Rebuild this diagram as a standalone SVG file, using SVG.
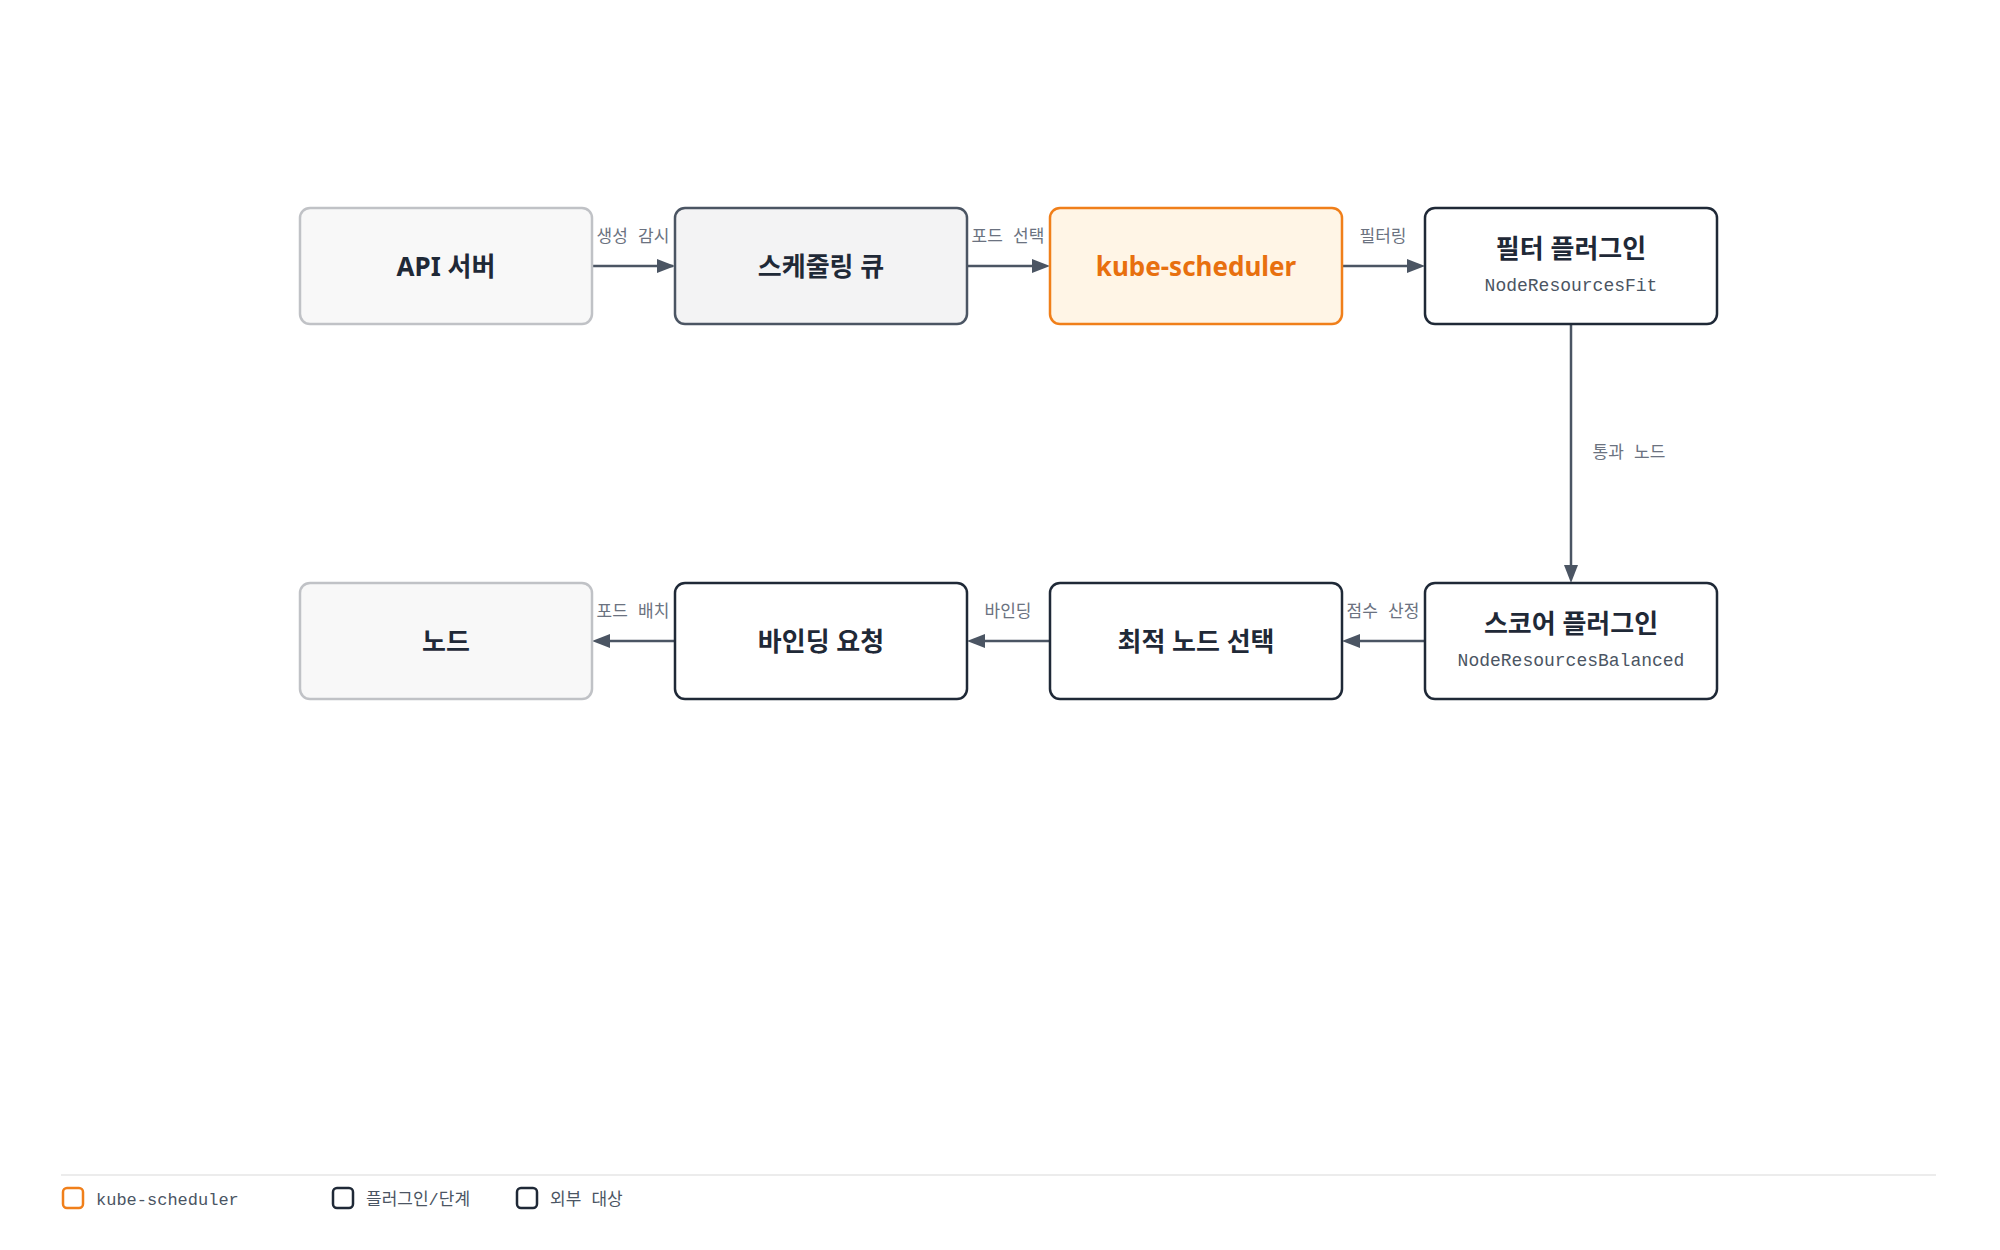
<svg xmlns="http://www.w3.org/2000/svg" width="2000" height="1250" viewBox="0 0 2000 1250">
<style>
.t{font-family:"Noto Sans","Noto Sans CJK KR",sans-serif;font-weight:700;font-size:26px;fill:#1f2937;text-anchor:middle;dominant-baseline:central}
.s{font-family:"Liberation Mono","Noto Sans CJK KR",monospace;font-size:18px;fill:#4b5563;text-anchor:middle;dominant-baseline:central}
.l{font-family:"Liberation Mono","Noto Sans CJK KR",monospace;font-size:17px;fill:#6b7280;text-anchor:middle;dominant-baseline:central}
.lg{font-family:"Liberation Mono","Noto Sans CJK KR",monospace;font-size:17px;fill:#4b5563;dominant-baseline:central}
.b{fill:#fff;stroke:#1f2937;stroke-width:2.5}
.e{fill:none;stroke:#4b5563;stroke-width:2.5;marker-end:url(#a)}
</style>
<defs><marker id="a" viewBox="0 0 10 10" refX="10" refY="5" markerWidth="7" markerHeight="7" orient="auto" markerUnits="userSpaceOnUse" ><path d="M0,0L10,5L0,10z" fill="#4b5563"/></marker></defs>
<rect width="2000" height="1250" fill="#fff"/>
<g id="connectors">
<line class="e" x1="592" y1="266" x2="673" y2="266" style="marker-end:none"/><path d="M657,259L675,266L657,273z" fill="#4b5563"/>
<line class="e" x1="967" y1="266" x2="1035" y2="266" style="marker-end:none"/><path d="M1032,259L1050,266L1032,273z" fill="#4b5563"/>
<line class="e" x1="1342" y1="266" x2="1410" y2="266" style="marker-end:none"/><path d="M1407,259L1425,266L1407,273z" fill="#4b5563"/>
<line class="e" x1="1571" y1="324" x2="1571" y2="568" style="marker-end:none"/><path d="M1564,565L1571,583L1578,565z" fill="#4b5563"/>
<line class="e" x1="1425" y1="641" x2="1357" y2="641" style="marker-end:none"/><path d="M1360,634L1342,641L1360,648z" fill="#4b5563"/>
<line class="e" x1="1050" y1="641" x2="982" y2="641" style="marker-end:none"/><path d="M985,634L967,641L985,648z" fill="#4b5563"/>
<line class="e" x1="675" y1="641" x2="607" y2="641" style="marker-end:none"/><path d="M610,634L592,641L610,648z" fill="#4b5563"/>
<text class="l" x="633" y="237">생성 감시</text>
<text class="l" x="1008" y="237">포드 선택</text>
<text class="l" x="1383" y="237">필터링</text>
<text class="l" x="1629" y="453">통과 노드</text>
<text class="l" x="1383" y="612">점수 산정</text>
<text class="l" x="1008" y="612">바인딩</text>
<text class="l" x="633" y="612">포드 배치</text>
</g>
<g id="api"><rect x="300" y="208" width="292" height="116" rx="10" fill="#f8f8f8" stroke="#c0c2c6" stroke-width="2.5"/><text class="t" x="446" y="266">API 서버</text></g>
<g id="queue"><rect x="675" y="208" width="292" height="116" rx="10" fill="#f3f3f4" stroke="#4b5563" stroke-width="2.5"/><text class="t" x="821" y="266">스케줄링 큐</text></g>
<g id="sched"><rect x="1050" y="208" width="292" height="116" rx="10" fill="#fff5e6" stroke="#f07f1a" stroke-width="2.5"/><text class="t" x="1196" y="266" style="fill:#e8700f">kube-scheduler</text></g>
<g id="filter"><rect class="b" x="1425" y="208" width="292" height="116" rx="10"/><text class="t" x="1571" y="248">필터 플러그인</text><text class="s" x="1571" y="286">NodeResourcesFit</text></g>
<g id="score"><rect class="b" x="1425" y="583" width="292" height="116" rx="10"/><text class="t" x="1571" y="623">스코어 플러그인</text><text class="s" x="1571" y="661">NodeResourcesBalanced</text></g>
<g id="select"><rect class="b" x="1050" y="583" width="292" height="116" rx="10"/><text class="t" x="1196" y="641">최적 노드 선택</text></g>
<g id="bind"><rect class="b" x="675" y="583" width="292" height="116" rx="10"/><text class="t" x="821" y="641">바인딩 요청</text></g>
<g id="node"><rect x="300" y="583" width="292" height="116" rx="10" fill="#f8f8f8" stroke="#c0c2c6" stroke-width="2.5"/><text class="t" x="446" y="641">노드</text></g>
<g id="legend">
<line x1="61" y1="1175" x2="1936" y2="1175" stroke="#ececec" stroke-width="2"/>
<rect x="63" y="1188" width="20" height="20" rx="4" fill="none" stroke="#f07f1a" stroke-width="2.5"/><text class="lg" x="96" y="1200">kube-scheduler</text>
<rect x="333" y="1188" width="20" height="20" rx="4" fill="none" stroke="#1f2937" stroke-width="2.5"/><text class="lg" x="366" y="1200">플러그인/단계</text>
<rect x="517" y="1188" width="20" height="20" rx="4" fill="none" stroke="#1f2937" stroke-width="2.5"/><text class="lg" x="550" y="1200">외부 대상</text>
</g>
</svg>
